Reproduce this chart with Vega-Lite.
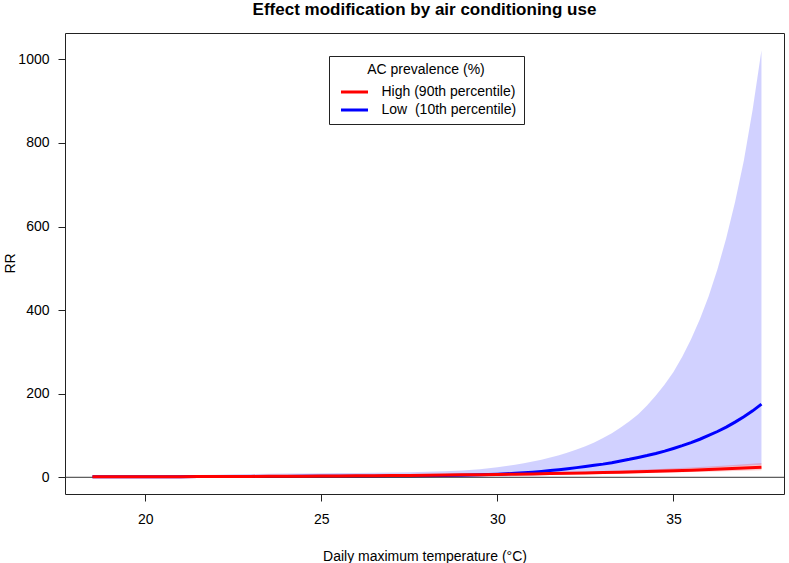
{
  "$schema": "https://vega.github.io/schema/vega-lite/v6.json",
  "width": 719,
  "height": 461,
  "autosize": "none",
  "padding": {"left": 65, "top": 33, "right": 5, "bottom": 69},
  "background": "white",
  "title": {
    "text": "Effect modification by air conditioning use",
    "font": "Liberation Sans",
    "fontSize": 17,
    "fontWeight": "bold",
    "color": "black",
    "anchor": "middle",
    "frame": "group",
    "offset": 14
  },
  "config": {
    "view": {"stroke": "#222", "strokeWidth": 1},
    "axis": {
      "labelFont": "Liberation Sans",
      "titleFont": "Liberation Sans",
      "labelFontSize": 14,
      "titleFontSize": 14,
      "titleFontWeight": "normal",
      "labelColor": "black",
      "titleColor": "black",
      "tickColor": "#222",
      "tickSize": 7,
      "grid": false,
      "domain": false
    }
  },
  "datasets": {
    "rr": [
      {"temp": 18.5, "ac": "Low", "rr": 1.0, "lo": 1.0, "hi": 1.0},
      {"temp": 19.0, "ac": "Low", "rr": 1.1, "lo": 0.81, "hi": 1.5},
      {"temp": 19.5, "ac": "Low", "rr": 1.2, "lo": 0.65, "hi": 2.2},
      {"temp": 20.0, "ac": "Low", "rr": 1.3, "lo": 0.56, "hi": 3.0},
      {"temp": 20.5, "ac": "Low", "rr": 1.4, "lo": 0.52, "hi": 3.8},
      {"temp": 21.0, "ac": "Low", "rr": 1.5, "lo": 0.49, "hi": 4.6},
      {"temp": 21.5, "ac": "Low", "rr": 1.6, "lo": 0.47, "hi": 5.5},
      {"temp": 22.0, "ac": "Low", "rr": 1.7, "lo": 0.46, "hi": 6.3},
      {"temp": 22.5, "ac": "Low", "rr": 1.8, "lo": 0.46, "hi": 7.0},
      {"temp": 23.0, "ac": "Low", "rr": 1.9, "lo": 0.47, "hi": 7.7},
      {"temp": 23.5, "ac": "Low", "rr": 2.0, "lo": 0.48, "hi": 8.3},
      {"temp": 24.0, "ac": "Low", "rr": 2.1, "lo": 0.5, "hi": 8.8},
      {"temp": 24.5, "ac": "Low", "rr": 2.2, "lo": 0.53, "hi": 9.2},
      {"temp": 25.0, "ac": "Low", "rr": 2.3, "lo": 0.55, "hi": 9.6},
      {"temp": 25.5, "ac": "Low", "rr": 2.4, "lo": 0.58, "hi": 10.0},
      {"temp": 26.0, "ac": "Low", "rr": 2.5, "lo": 0.6, "hi": 10.4},
      {"temp": 26.5, "ac": "Low", "rr": 2.7, "lo": 0.68, "hi": 10.8},
      {"temp": 27.0, "ac": "Low", "rr": 2.9, "lo": 0.74, "hi": 11.3},
      {"temp": 27.5, "ac": "Low", "rr": 3.2, "lo": 0.85, "hi": 12.0},
      {"temp": 28.0, "ac": "Low", "rr": 3.6, "lo": 1.0, "hi": 13.0},
      {"temp": 28.5, "ac": "Low", "rr": 4.2, "lo": 1.22, "hi": 14.5},
      {"temp": 29.0, "ac": "Low", "rr": 5.0, "lo": 1.52, "hi": 16.5},
      {"temp": 29.5, "ac": "Low", "rr": 6.0, "lo": 1.85, "hi": 19.5},
      {"temp": 30.0, "ac": "Low", "rr": 7.5, "lo": 2.34, "hi": 24},
      {"temp": 30.25, "ac": "Low", "rr": 8.45, "lo": 2.65, "hi": 26.9},
      {"temp": 30.5, "ac": "Low", "rr": 9.5, "lo": 3.0, "hi": 30.1},
      {"temp": 30.75, "ac": "Low", "rr": 10.8, "lo": 3.46, "hi": 33.7},
      {"temp": 31.0, "ac": "Low", "rr": 12.2, "lo": 3.95, "hi": 37.7},
      {"temp": 31.25, "ac": "Low", "rr": 14.0, "lo": 4.64, "hi": 42.2},
      {"temp": 31.5, "ac": "Low", "rr": 16, "lo": 5.42, "hi": 47.2},
      {"temp": 31.75, "ac": "Low", "rr": 18.1, "lo": 6.2, "hi": 52.8},
      {"temp": 32.0, "ac": "Low", "rr": 20.5, "lo": 7.11, "hi": 59.1},
      {"temp": 32.25, "ac": "Low", "rr": 23.1, "lo": 8.04, "hi": 66.4},
      {"temp": 32.5, "ac": "Low", "rr": 26, "lo": 9.09, "hi": 74.4},
      {"temp": 32.75, "ac": "Low", "rr": 28.6, "lo": 9.8, "hi": 83.5},
      {"temp": 33.0, "ac": "Low", "rr": 31.5, "lo": 10.6, "hi": 93.7},
      {"temp": 33.25, "ac": "Low", "rr": 35.0, "lo": 11.6, "hi": 105.6},
      {"temp": 33.5, "ac": "Low", "rr": 39, "lo": 12.8, "hi": 119.1},
      {"temp": 33.75, "ac": "Low", "rr": 43.0, "lo": 13.8, "hi": 134.3},
      {"temp": 34.0, "ac": "Low", "rr": 47.5, "lo": 14.9, "hi": 151},
      {"temp": 34.25, "ac": "Low", "rr": 52, "lo": 15.7, "hi": 172},
      {"temp": 34.5, "ac": "Low", "rr": 57, "lo": 16.6, "hi": 195.4},
      {"temp": 34.75, "ac": "Low", "rr": 62.7, "lo": 17.7, "hi": 222},
      {"temp": 35.0, "ac": "Low", "rr": 69, "lo": 18.9, "hi": 252},
      {"temp": 35.25, "ac": "Low", "rr": 75.7, "lo": 19.9, "hi": 288.6},
      {"temp": 35.5, "ac": "Low", "rr": 83, "lo": 20.9, "hi": 330.3},
      {"temp": 35.75, "ac": "Low", "rr": 91, "lo": 21.9, "hi": 378},
      {"temp": 36.0, "ac": "Low", "rr": 100, "lo": 23.1, "hi": 433},
      {"temp": 36.25, "ac": "Low", "rr": 109.5, "lo": 24.1, "hi": 497.7},
      {"temp": 36.5, "ac": "Low", "rr": 120, "lo": 25.2, "hi": 572.5},
      {"temp": 36.75, "ac": "Low", "rr": 132, "lo": 26.5, "hi": 658.5},
      {"temp": 37.0, "ac": "Low", "rr": 145, "lo": 27.7, "hi": 758},
      {"temp": 37.25, "ac": "Low", "rr": 159, "lo": 28.7, "hi": 880},
      {"temp": 37.5, "ac": "Low", "rr": 175, "lo": 30, "hi": 1022},
      {"temp": 18.5, "ac": "High", "rr": 1.0, "lo": 1.0, "hi": 1.0},
      {"temp": 19.0, "ac": "High", "rr": 1.09, "lo": 1.08, "hi": 1.1},
      {"temp": 19.5, "ac": "High", "rr": 1.18, "lo": 1.16, "hi": 1.2},
      {"temp": 20.0, "ac": "High", "rr": 1.28, "lo": 1.25, "hi": 1.32},
      {"temp": 20.5, "ac": "High", "rr": 1.4, "lo": 1.35, "hi": 1.45},
      {"temp": 21.0, "ac": "High", "rr": 1.52, "lo": 1.45, "hi": 1.59},
      {"temp": 21.5, "ac": "High", "rr": 1.65, "lo": 1.56, "hi": 1.74},
      {"temp": 22.0, "ac": "High", "rr": 1.79, "lo": 1.68, "hi": 1.91},
      {"temp": 22.5, "ac": "High", "rr": 1.95, "lo": 1.81, "hi": 2.1},
      {"temp": 23.0, "ac": "High", "rr": 2.12, "lo": 1.95, "hi": 2.31},
      {"temp": 23.5, "ac": "High", "rr": 2.3, "lo": 2.1, "hi": 2.52},
      {"temp": 24.0, "ac": "High", "rr": 2.5, "lo": 2.26, "hi": 2.77},
      {"temp": 24.5, "ac": "High", "rr": 2.72, "lo": 2.43, "hi": 3.04},
      {"temp": 25.0, "ac": "High", "rr": 2.96, "lo": 2.62, "hi": 3.34},
      {"temp": 25.5, "ac": "High", "rr": 3.22, "lo": 2.82, "hi": 3.67},
      {"temp": 26.0, "ac": "High", "rr": 3.5, "lo": 3.04, "hi": 4.03},
      {"temp": 26.5, "ac": "High", "rr": 3.8, "lo": 3.27, "hi": 4.42},
      {"temp": 27.0, "ac": "High", "rr": 4.13, "lo": 3.51, "hi": 4.86},
      {"temp": 27.5, "ac": "High", "rr": 4.5, "lo": 3.79, "hi": 5.35},
      {"temp": 28.0, "ac": "High", "rr": 4.89, "lo": 4.1, "hi": 5.84},
      {"temp": 28.5, "ac": "High", "rr": 5.31, "lo": 4.4, "hi": 6.41},
      {"temp": 29.0, "ac": "High", "rr": 5.78, "lo": 4.74, "hi": 7.05},
      {"temp": 29.5, "ac": "High", "rr": 6.28, "lo": 5.1, "hi": 7.74},
      {"temp": 30.0, "ac": "High", "rr": 6.83, "lo": 5.5, "hi": 8.48},
      {"temp": 30.5, "ac": "High", "rr": 7.42, "lo": 5.92, "hi": 9.31},
      {"temp": 31.0, "ac": "High", "rr": 8.07, "lo": 6.38, "hi": 10.2},
      {"temp": 31.5, "ac": "High", "rr": 8.77, "lo": 6.87, "hi": 11.2},
      {"temp": 32.0, "ac": "High", "rr": 9.54, "lo": 7.4, "hi": 12.3},
      {"temp": 32.5, "ac": "High", "rr": 10.4, "lo": 7.98, "hi": 13.5},
      {"temp": 33.0, "ac": "High", "rr": 11.3, "lo": 8.6, "hi": 14.8},
      {"temp": 33.5, "ac": "High", "rr": 12.3, "lo": 9.3, "hi": 16.3},
      {"temp": 34.0, "ac": "High", "rr": 13.3, "lo": 10.0, "hi": 17.8},
      {"temp": 34.5, "ac": "High", "rr": 14.5, "lo": 10.8, "hi": 19.5},
      {"temp": 35.0, "ac": "High", "rr": 15.8, "lo": 11.7, "hi": 21.4},
      {"temp": 35.5, "ac": "High", "rr": 17.1, "lo": 12.5, "hi": 23.4},
      {"temp": 36.0, "ac": "High", "rr": 18.6, "lo": 13.5, "hi": 25.6},
      {"temp": 36.5, "ac": "High", "rr": 20.3, "lo": 14.6, "hi": 28.2},
      {"temp": 37.0, "ac": "High", "rr": 22.0, "lo": 15.7, "hi": 30.9},
      {"temp": 37.5, "ac": "High", "rr": 24.0, "lo": 16.9, "hi": 34.0}
    ],
    "legendNames": [
      {"ac": "High", "name": "High (90th percentile)"},
      {"ac": "Low", "name": "Low\u00a0 (10th percentile)"}
    ]
  },
  "data": {"name": "rr"},
  "transform": [
    {"lookup": "ac", "from": {"data": {"name": "legendNames"}, "key": "ac", "fields": ["name"]}}
  ],
  "encoding": {
    "x": {
      "field": "temp",
      "type": "quantitative",
      "scale": {"domain": [17.72, 38.14], "nice": false, "zero": false},
      "axis": {
        "values": [20, 25, 30, 35],
        "title": "Daily maximum temperature (°C)",
        "labelPadding": 11,
        "titleY": 62,
        "titleBaseline": "middle"
      }
    }
  },
  "layer": [
    {
      "transform": [{"filter": "datum.ac === 'Low'"}],
      "mark": {"type": "area", "fill": "#0000ff", "fillOpacity": 0.18, "stroke": null},
      "encoding": {
        "y": {"field": "lo", "type": "quantitative"},
        "y2": {"field": "hi"}
      }
    },
    {
      "transform": [{"filter": "datum.ac === 'Low'"}],
      "mark": {"type": "line", "strokeWidth": 3},
      "encoding": {
        "y": {"field": "rr", "type": "quantitative"},
        "color": {"field": "name", "type": "nominal"}
      }
    },
    {
      "transform": [{"filter": "datum.ac === 'High'"}],
      "mark": {"type": "area", "fill": "#ff0000", "fillOpacity": 0.2, "stroke": null},
      "encoding": {
        "y": {"field": "lo", "type": "quantitative"},
        "y2": {"field": "hi"}
      }
    },
    {
      "data": {"values": [{"level": 0}]},
      "mark": {"type": "rule", "color": "#333", "strokeWidth": 1},
      "encoding": {
        "y": {"field": "level", "type": "quantitative"},
        "x": {"value": 0},
        "x2": {"value": 719}
      }
    },
    {
      "transform": [{"filter": "datum.ac === 'High'"}],
      "mark": {"type": "line", "strokeWidth": 3},
      "encoding": {
        "y": {
          "field": "rr",
          "type": "quantitative",
          "scale": {"domain": [-40, 1063], "nice": false, "zero": false},
          "axis": {
            "values": [0, 200, 400, 600, 800, 1000],
            "format": "d",
            "title": "RR",
            "labelPadding": 9,
            "titleX": -55,
            "titleY": 230,
            "titleBaseline": "middle"
          }
        },
        "color": {
          "field": "name",
          "type": "nominal",
          "scale": {
            "domain": ["High (90th percentile)", "Low\u00a0 (10th percentile)"],
            "range": ["#ff0000", "#0000ff"]
          },
          "legend": {
            "title": "AC prevalence (%)",
            "orient": "none",
            "legendX": 264,
            "legendY": 23,
            "titleAnchor": "middle",
            "titleAlign": "center",
            "titleFont": "Liberation Sans",
            "titleFontSize": 14,
            "titleFontWeight": "normal",
            "titleColor": "black",
            "titlePadding": 8,
            "labelFont": "Liberation Sans",
            "labelFontSize": 14,
            "labelColor": "black",
            "labelOffset": 20,
            "symbolType": "M-2.7,0H2.7",
            "symbolSize": 100,
            "symbolStrokeWidth": 3,
            "symbolOffset": 11.5,
            "rowPadding": 4,
            "padding": 7,
            "strokeColor": "#222",
            "fillColor": "white"
          }
        }
      }
    }
  ],
  "resolve": {"scale": {"y": "shared"}}
}
